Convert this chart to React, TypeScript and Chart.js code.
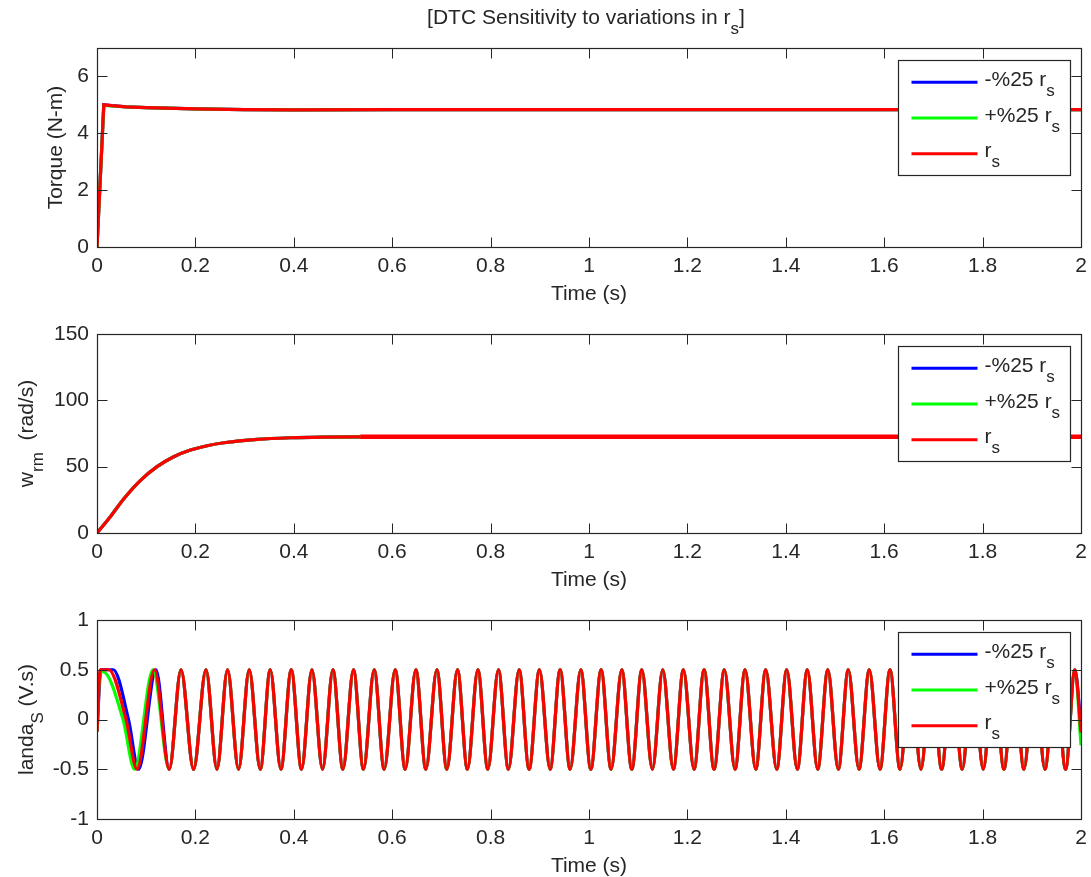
import React, { useEffect, useRef } from 'react';
import { Chart, registerables } from 'chart.js';

Chart.register(...registerables);

const FONT_FAMILY = '"Liberation Sans", Arial, Helvetica, sans-serif';
const TEXT_COLOR = '#262626';
const AXIS_COLOR = '#262626';
const MAIN_SIZE = 21;
const SUB_SIZE = 17;
const SUB_DROP = 10;

// ---------- legend / series ----------
const seriesNames = ['-%25 r', '+%25 r', 'r'];
const seriesSub = 's';
const seriesColors = ['#0000ff', '#00ff00', '#ff0000'];
const seriesOrder = [2, 1, 0];

// ---------- tick labels ----------
const xTickValues = [0, 0.2, 0.4, 0.6, 0.8, 1, 1.2, 1.4, 1.6, 1.8, 2];
const xTickLabels = ['0', '0.2', '0.4', '0.6', '0.8', '1', '1.2', '1.4', '1.6', '1.8', '2'];
const torqueTickValues = [0, 2, 4, 6];
const torqueTickLabels = ['0', '2', '4', '6'];
const speedTickValues = [0, 50, 100, 150];
const speedTickLabels = ['0', '50', '100', '150'];
const fluxTickValues = [-1, -0.5, 0, 0.5, 1];
const fluxTickLabels = ['-1', '-0.5', '0', '0.5', '1'];

// ---------- torque (N-m) ----------
const torqueTime = [0, 0.0015, 0.0138, 0.03, 0.06, 0.1, 0.2, 0.3, 0.4, 0.6, 1.0, 1.5, 2.0];
const torqueMinusRs = [0, 0, 5.0, 4.97, 4.93, 4.9, 4.86, 4.83, 4.82, 4.83, 4.83, 4.83, 4.83];
const torquePlusRs = [0, 0, 4.98, 4.96, 4.93, 4.9, 4.86, 4.83, 4.82, 4.83, 4.83, 4.83, 4.83];
const torqueRs = [0, 0, 5.0, 4.97, 4.93, 4.9, 4.86, 4.83, 4.82, 4.83, 4.83, 4.83, 4.83];

// ---------- speed (rad/s) ----------
const speedTime = [0, 0.0275, 0.055, 0.088, 0.122, 0.156, 0.19, 0.224, 0.258, 0.326, 0.394, 0.46, 0.535, 1.0, 1.5, 2.0];
const speedMinusRs = [0, 12.5, 26, 39.5, 50, 57.5, 62.5, 65.8, 68, 70.6, 71.8, 72.3, 72.5, 72.5, 72.5, 72.5];
const speedPlusRs = [0, 12.5, 26, 39.5, 50, 57.5, 62.5, 65.8, 68, 70.6, 71.8, 72.3, 72.5, 72.5, 72.5, 72.5];
const speedRs = [0, 12.5, 26, 39.5, 50, 57.5, 62.5, 65.8, 68, 70.6, 71.8, 72.3, 72.5, 72.5, 72.5, 72.5];
const speedRippleStart = 0.535;

// ---------- stator flux (V.s) ----------
const fluxPeakValue = 0.5;
const fluxTroughValue = -0.5;
const fluxPeakTimes = [0.1707, 0.2215, 0.2653, 0.3094, 0.3521, 0.3948, 0.4368, 0.4795, 0.5213, 0.5634, 0.6061, 0.6481, 0.6908, 0.7326, 0.7741, 0.8159, 0.858, 0.8992, 0.9413, 0.9833, 1.0246, 1.0666, 1.1073, 1.1499, 1.1918, 1.2339, 1.2751, 1.3172, 1.3592, 1.4019, 1.4437, 1.4854, 1.527, 1.5697, 1.6118, 1.6534, 1.6958, 1.7377, 1.78, 1.8224, 1.8637, 1.9054, 1.9477, 1.9876];
const fluxTroughTimes = [0.1469, 0.1963, 0.2438, 0.2877, 0.3318, 0.3738, 0.4157, 0.4584, 0.4998, 0.5416, 0.5837, 0.6264, 0.6684, 0.7111, 0.7529, 0.7944, 0.8362, 0.8783, 0.921, 0.9616, 1.0037, 1.0449, 1.087, 1.1288, 1.1715, 1.2135, 1.2542, 1.2968, 1.3389, 1.3815, 1.4234, 1.4648, 1.5067, 1.5488, 1.5914, 1.6321, 1.6747, 1.7168, 1.7586, 1.8013, 1.8434, 1.884, 1.9267, 1.9687];
const fluxEarlyTimeMinus = [0, 0.008, 0.033, 0.064, 0.0845, 0.1199];
const fluxEarlyValueMinus = [-0.12, 0.5, 0.5, 0, -0.5, 0.5];
const fluxEarlyTimePlus = [0, 0.0065, 0.012, 0.053, 0.0764, 0.1138];
const fluxEarlyValuePlus = [-0.12, 0.48, 0.48, 0, -0.5, 0.5];
const fluxEarlyTimeRs = [0, 0.0067, 0.024, 0.059, 0.0813, 0.117];
const fluxEarlyValueRs = [-0.12, 0.5, 0.5, 0, -0.5, 0.5];
const fluxEndTime = 2.0;
const fluxEndMinus = -0.07;
const fluxEndPlus = -0.26;
const fluxEndRs = -0.13;

type Pt = { x: number; y: number };

function zipPoints(t: number[], v: number[]): Pt[] {
  return t.map((x, i) => ({ x, y: v[i] }));
}

function fluxSeries(earlyT: number[], earlyV: number[], endV: number): Pt[] {
  const steady: Pt[] = [
    ...fluxPeakTimes.map((x) => ({ x, y: fluxPeakValue })),
    ...fluxTroughTimes.map((x) => ({ x, y: fluxTroughValue })),
  ].sort((a, b) => a.x - b.x);
  return [...zipPoints(earlyT, earlyV), ...steady, { x: fluxEndTime, y: endV }];
}

type Seg = { text: string; sub?: boolean };

type PanelSpec = {
  top: number;
  height: number;
  areaTop: number;
  areaBottom: number;
  yMin: number;
  yMax: number;
  yTickValues: number[];
  yTickLabels: string[];
  yLabel: Seg[];
  yLabelBaseX: number;
  smooth: boolean;
  series: Pt[][];
  thickAfter?: number;
  title?: Seg[];
};

function segWidth(ctx: CanvasRenderingContext2D, segs: Seg[]) {
  let w = 0;
  for (const s of segs) {
    ctx.font = `${s.sub ? SUB_SIZE : MAIN_SIZE}px ${FONT_FAMILY}`;
    w += ctx.measureText(s.text).width;
  }
  return w;
}

function drawSegs(ctx: CanvasRenderingContext2D, segs: Seg[], x: number, y: number) {
  let cx = x;
  ctx.textBaseline = 'alphabetic';
  ctx.textAlign = 'left';
  for (const s of segs) {
    ctx.font = `${s.sub ? SUB_SIZE : MAIN_SIZE}px ${FONT_FAMILY}`;
    ctx.fillText(s.text, cx, y + (s.sub ? SUB_DROP : 0));
    cx += ctx.measureText(s.text).width;
  }
}

function decorPlugin(p: PanelSpec) {
  return {
    id: 'decor',
    afterDraw(chart: any) {
      const ctx: CanvasRenderingContext2D = chart.ctx;
      const a = chart.chartArea;
      const xs = chart.scales.x;
      const ys = chart.scales.y;
      ctx.save();
      // inward ticks
      ctx.strokeStyle = AXIS_COLOR;
      ctx.lineWidth = 1;
      ctx.beginPath();
      const L = Math.round(a.left) + 0.5;
      const R = Math.round(a.right) + 0.5;
      const T = Math.round(a.top) + 0.5;
      const B = Math.round(a.bottom) + 0.5;
      for (const v of xTickValues) {
        const px = Math.round(xs.getPixelForValue(v)) + 0.5;
        ctx.moveTo(px, B);
        ctx.lineTo(px, B - 10);
        ctx.moveTo(px, T);
        ctx.lineTo(px, T + 10);
      }
      for (const v of p.yTickValues) {
        const py = Math.round(ys.getPixelForValue(v)) + 0.5;
        ctx.moveTo(L, py);
        ctx.lineTo(L + 10, py);
        ctx.moveTo(R, py);
        ctx.lineTo(R - 10, py);
      }
      ctx.stroke();
      ctx.lineWidth = 1.2;
      ctx.strokeRect(L, T, R - L, B - T);

      // legend
      const bx = Math.round(a.right - 183) + 0.5;
      const by = Math.round(a.top + 12) + 0.5;
      const bw = 172;
      const bh = 115;
      ctx.fillStyle = '#ffffff';
      ctx.fillRect(bx, by, bw, bh);
      ctx.strokeStyle = AXIS_COLOR;
      ctx.lineWidth = 1.2;
      ctx.strokeRect(bx, by, bw, bh);
      for (let i = 0; i < seriesNames.length; i++) {
        const ry = by + 21.7 + i * 35.8;
        ctx.strokeStyle = seriesColors[i];
        ctx.lineWidth = 3;
        ctx.beginPath();
        ctx.moveTo(bx + 13, ry);
        ctx.lineTo(bx + 79, ry);
        ctx.stroke();
        ctx.fillStyle = TEXT_COLOR;
        drawSegs(ctx, [{ text: seriesNames[i] }, { text: seriesSub, sub: true }], bx + 86, ry + 3.5);
      }

      // x-axis title
      ctx.fillStyle = TEXT_COLOR;
      const xt: Seg[] = [{ text: 'Time (s)' }];
      const xw = segWidth(ctx, xt);
      drawSegs(ctx, xt, (a.left + a.right) / 2 - xw / 2, a.bottom + 53);

      // y-axis title (rotated)
      const yw = segWidth(ctx, p.yLabel);
      ctx.save();
      ctx.translate(p.yLabelBaseX, (a.top + a.bottom) / 2);
      ctx.rotate(-Math.PI / 2);
      drawSegs(ctx, p.yLabel, -yw / 2, 0);
      ctx.restore();

      // figure title
      if (p.title) {
        const tw = segWidth(ctx, p.title);
        drawSegs(ctx, p.title, (a.left + a.right) / 2 - 3 - tw / 2, 23.5);
      }
      ctx.restore();
    },
  };
}

function panelConfig(p: PanelSpec): any {
  const font = { family: FONT_FAMILY, size: MAIN_SIZE };
  return {
    type: 'line',
    data: {
      datasets: p.series.map((data, i) => ({
        label: seriesNames[i],
        data,
        borderColor: seriesColors[i],
        backgroundColor: seriesColors[i],
        borderWidth: 3.2,
        pointRadius: 0,
        pointHoverRadius: 0,
        fill: false,
        order: seriesOrder[i],
        tension: 0,
        cubicInterpolationMode: p.smooth ? 'monotone' : 'default',
        segment:
          p.thickAfter !== undefined && i === 2
            ? { borderWidth: (c: any) => (c.p0.parsed.x >= (p.thickAfter as number) ? 4.6 : 3.2) }
            : undefined,
      })),
    },
    options: {
      animation: false,
      responsive: false,
      devicePixelRatio: 1,
      events: [],
      layout: { padding: { top: p.areaTop, right: 10, left: 0, bottom: 0 } },
      plugins: { legend: { display: false }, tooltip: { enabled: false }, title: { display: false } },
      scales: {
        x: {
          type: 'linear',
          min: 0,
          max: 2,
          grid: { display: false, drawTicks: false },
          border: { display: false },
          afterBuildTicks: (s: any) => {
            s.ticks = xTickValues.map((v) => ({ value: v }));
          },
          afterFit: (s: any) => {
            s.height = p.height - p.areaBottom;
            s.paddingLeft = 0;
            s.paddingRight = 0;
          },
          ticks: {
            autoSkip: false,
            maxRotation: 0,
            minRotation: 0,
            padding: 7,
            color: TEXT_COLOR,
            font,
            callback: (_v: any, i: number) => xTickLabels[i],
          },
        },
        y: {
          type: 'linear',
          min: p.yMin,
          max: p.yMax,
          grid: { display: false, drawTicks: false },
          border: { display: false },
          afterBuildTicks: (s: any) => {
            s.ticks = p.yTickValues.map((v) => ({ value: v }));
          },
          afterFit: (s: any) => {
            s.width = 97;
            s.paddingTop = 0;
            s.paddingBottom = 0;
          },
          ticks: {
            autoSkip: false,
            padding: 8,
            color: TEXT_COLOR,
            font,
            callback: (_v: any, i: number) => p.yTickLabels[i],
          },
        },
      },
    },
    plugins: [decorPlugin(p)],
  };
}

const panels: PanelSpec[] = [
  {
    top: 0,
    height: 315,
    areaTop: 48,
    areaBottom: 247,
    yMin: 0,
    yMax: 7,
    yTickValues: torqueTickValues,
    yTickLabels: torqueTickLabels,
    yLabel: [{ text: 'Torque (N-m)' }],
    yLabelBaseX: 62,
    smooth: false,
    series: [zipPoints(torqueTime, torqueMinusRs), zipPoints(torqueTime, torquePlusRs), zipPoints(torqueTime, torqueRs)],
    title: [{ text: '[DTC Sensitivity to variations in r' }, { text: 's', sub: true }, { text: ']' }],
  },
  {
    top: 315,
    height: 285,
    areaTop: 19,
    areaBottom: 218,
    yMin: 0,
    yMax: 150,
    yTickValues: speedTickValues,
    yTickLabels: speedTickLabels,
    yLabel: [{ text: 'w' }, { text: 'rm', sub: true }, { text: '  (rad/s)' }],
    yLabelBaseX: 33,
    smooth: true,
    thickAfter: speedRippleStart,
    series: [zipPoints(speedTime, speedMinusRs), zipPoints(speedTime, speedPlusRs), zipPoints(speedTime, speedRs)],
  },
  {
    top: 600,
    height: 277,
    areaTop: 20,
    areaBottom: 219,
    yMin: -1,
    yMax: 1,
    yTickValues: fluxTickValues,
    yTickLabels: fluxTickLabels,
    yLabel: [{ text: 'landa' }, { text: 'S', sub: true }, { text: ' (V.s)' }],
    yLabelBaseX: 33,
    smooth: true,
    series: [
      fluxSeries(fluxEarlyTimeMinus, fluxEarlyValueMinus, fluxEndMinus),
      fluxSeries(fluxEarlyTimePlus, fluxEarlyValuePlus, fluxEndPlus),
      fluxSeries(fluxEarlyTimeRs, fluxEarlyValueRs, fluxEndRs),
    ],
  },
];

function Panel({ spec }: { spec: PanelSpec }) {
  const ref = useRef<HTMLCanvasElement | null>(null);
  useEffect(() => {
    if (!ref.current) return;
    const chart = new Chart(ref.current, panelConfig(spec));
    return () => chart.destroy();
  }, [spec]);
  return (
    <canvas
      ref={ref}
      width={1091}
      height={spec.height}
      style={{ position: 'absolute', left: 0, top: spec.top, width: 1091, height: spec.height }}
    />
  );
}

export default function App() {
  return (
    <div style={{ position: 'absolute', left: 0, top: 0, width: 1091, height: 877, background: '#ffffff' }}>
      {panels.map((p, i) => (
        <Panel key={i} spec={p} />
      ))}
    </div>
  );
}
